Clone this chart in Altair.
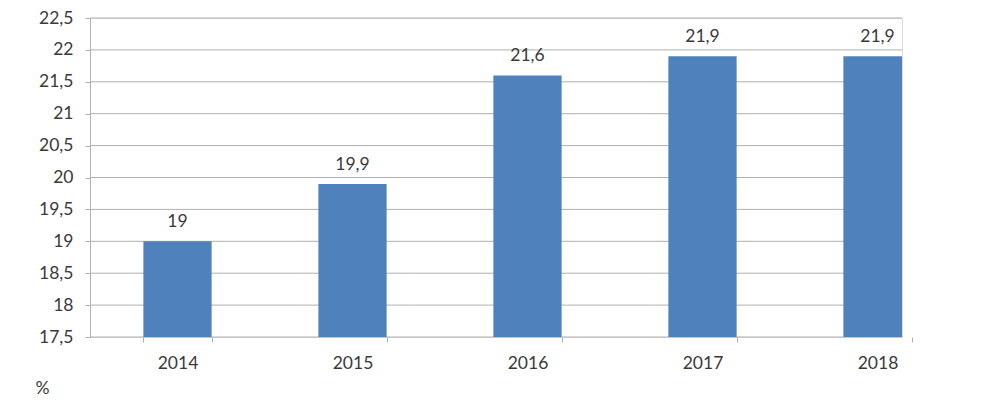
import altair as alt
import pandas as pd

years = ["2014", "2015", "2016", "2017", "2018"]
values = [19.0, 19.9, 21.6, 21.9, 21.9]
labels = ["19", "19,9", "21,6", "21,9", "21,9"]
y_ticks = [17.5, 18, 18.5, 19, 19.5, 20, 20.5, 21, 21.5, 22, 22.5]

df = pd.DataFrame({"year": years, "value": values, "label": labels})
grid_df = pd.DataFrame({"tick": y_ticks})

FONT = "Lato"
FS = 17.5
BAR = "#4F81BD"
GRID = "#b0b0b0"
TXT = "#3a3a3a"
W = 812

yscale = alt.Scale(domain=[17.5, 22.5], nice=False, zero=False)
xscale = alt.Scale(range=[0, 875], paddingInner=0.61, paddingOuter=0.305)

xaxis = alt.Axis(
    title=None, domain=False, ticks=True, tickBand="extent", tickSize=5,
    tickColor=GRID, labelAngle=0, labelFont=FONT, labelFontSize=FS,
    labelColor=TXT, labelPadding=12, grid=False,
)
yaxis = alt.Axis(
    values=y_ticks, labelOverlap=False, grid=False,
    labelExpr="replace(toString(datum.value), '.', ',')",
    labelFont=FONT, labelFontSize=FS, labelColor=TXT, labelPadding=12,
    tickSize=5, tickColor=GRID, domainColor=GRID, domainWidth=1,
    title="%", titleAngle=0, titleX=-48, titleY=370, titleAlign="center",
    titleBaseline="middle", titleFont=FONT, titleFontSize=FS,
    titleFontWeight="normal", titleColor=TXT,
)

grid = alt.Chart(grid_df).mark_rule(color=GRID, strokeWidth=1).encode(
    y=alt.Y("tick:Q", scale=yscale, axis=yaxis), x=alt.value(0), x2=alt.value(W)
)
bars = alt.Chart(df).mark_bar(color=BAR, clip=True).encode(
    x=alt.X("year:N", sort=years, scale=xscale, axis=xaxis),
    y=alt.Y("value:Q", scale=yscale, axis=yaxis),
)
text = alt.Chart(df).mark_text(
    baseline="alphabetic", dy=-14, font=FONT, fontSize=FS, color=TXT
).encode(
    x=alt.X("year:N", sort=years, scale=xscale, axis=xaxis),
    y=alt.Y("value:Q", scale=yscale, axis=yaxis),
    text="label:N",
)

chart = (
    alt.layer(grid, bars, text)
    .properties(
        width=W, height=319,
        autosize=alt.AutoSizeParams(type="none"),
        padding={"left": 82, "top": 10, "right": 88, "bottom": 68},
    )
    .configure_view(stroke=None)
    .configure(background="white")
)

chart.save("out.html", embed_options={"renderer": "svg", "actions": False})
